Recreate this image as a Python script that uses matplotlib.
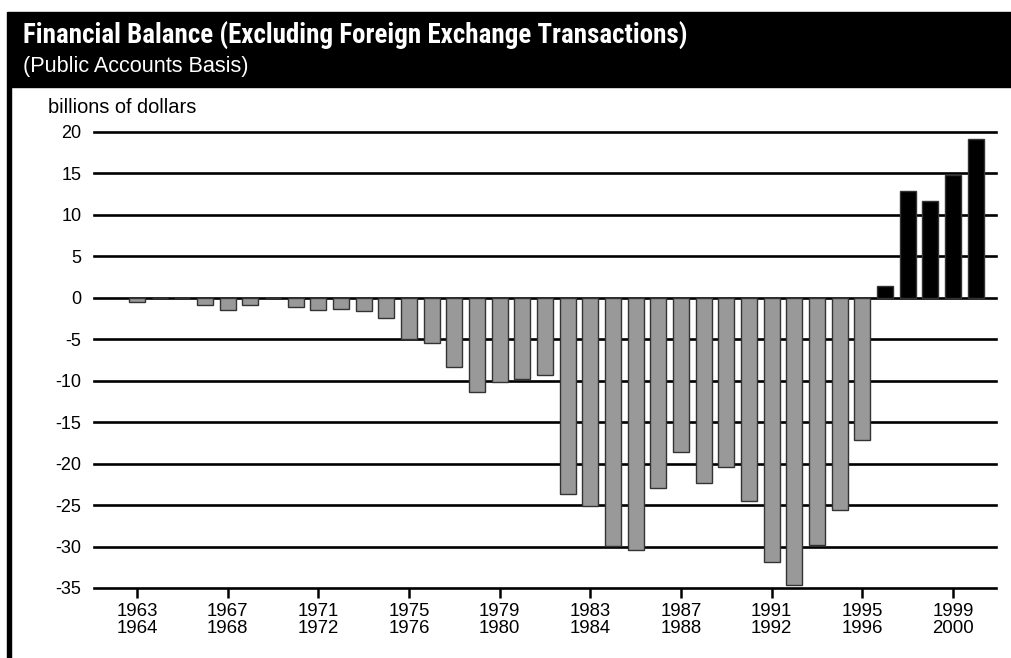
import matplotlib
matplotlib.use("Agg")
import matplotlib.pyplot as plt
from matplotlib import font_manager
from matplotlib.patches import Rectangle

# fiscal years 1963-64 .. 2000-01, billions of dollars
years = list(range(1963, 2001))
balance = [-0.5, 0, 0, -0.9, -1.5, -0.9, 0, -1.1, -1.5, -1.3,
           -1.6, -2.4, -5.0, -5.5, -8.4, -11.4, -10.1, -9.8, -9.3, -23.7,
           -25.1, -29.9, -30.4, -22.9, -18.6, -22.3, -20.4, -24.5, -31.9, -34.6,
           -29.8, -25.6, -17.2, 1.4, 12.9, 11.7, 14.8, 19.2]
yticks = [20, 15, 10, 5, 0, -5, -10, -15, -20, -25, -30, -35]
xtick_years = years[::4]
xtick_labels = ["%d\n%d" % (y, y + 1) for y in xtick_years]

title = "Financial Balance (Excluding Foreign Exchange Transactions)"
subtitle = "(Public Accounts Basis)"
unit = "billions of dollars"

W, H = 1012, 658
names = set(f.name for f in font_manager.fontManager.ttflist)


def pick(cands):
    for c in cands:
        if c in names:
            return c
    return "DejaVu Sans"


cond = pick(["Liberation Sans Narrow", "Roboto Condensed", "DejaVu Sans Condensed",
             "Open Sans Condensed", "Liberation Sans"])
body = pick(["Liberation Sans", "Arial", "DejaVu Sans"])
plt.rcParams["font.family"] = body


def fx(x):
    return x / W


def fy(y):
    return 1 - y / H


fig = plt.figure(figsize=(W / 100, H / 100), dpi=100)

# header block and left rule
fig.patches.append(Rectangle((fx(7), fy(87)), fx(W) - fx(7), fy(12) - fy(87),
                             transform=fig.transFigure, color="black"))
fig.patches.append(Rectangle((fx(7), 0), fx(4), fy(87),
                             transform=fig.transFigure, color="black"))

t1 = fig.text(fx(23), fy(44), title, color="white", fontsize=20,
              fontweight="bold", family=cond, va="baseline")
t2 = fig.text(fx(23), fy(72), subtitle, color="white", fontsize=15,
              family=body, va="baseline")
t3 = fig.text(fx(48), fy(113), unit, color="black", fontsize=14,
              family=body, va="baseline")

ax = fig.add_axes([fx(94), fy(588), fx(996) - fx(94), fy(132) - fy(588)])

x = list(range(len(years)))
colors = ["black" if v > 0 else "#999999" for v in balance]
for v in yticks:
    ax.axhline(v, color="black", lw=1.9, zorder=1, clip_on=False)
ax.bar(x, balance, width=0.7, color=colors, edgecolor="#333333", linewidth=1, zorder=2)

ax.set_xlim(-1.897, 37.9)
ax.set_ylim(-35, 20)
for s in ax.spines.values():
    s.set_visible(False)
ax.set_yticks(yticks)
ax.set_yticklabels([str(v) for v in yticks], fontsize=13)
ax.tick_params(axis="y", length=0, pad=9)
ax.set_xticks([years.index(y) for y in xtick_years])
ax.set_xticklabels(xtick_labels, fontsize=13.4, linespacing=0.95)
ax.tick_params(axis="x", length=7, width=1.8, pad=4, direction="out")

# fit header text widths to the reference
fig.canvas.draw()
for t, target in [(t1, 663), (t2, 226), (t3, 149)]:
    w = t.get_window_extent().width
    t.set_fontsize(t.get_fontsize() * target / w)

fig.savefig("out.png", dpi=100)
